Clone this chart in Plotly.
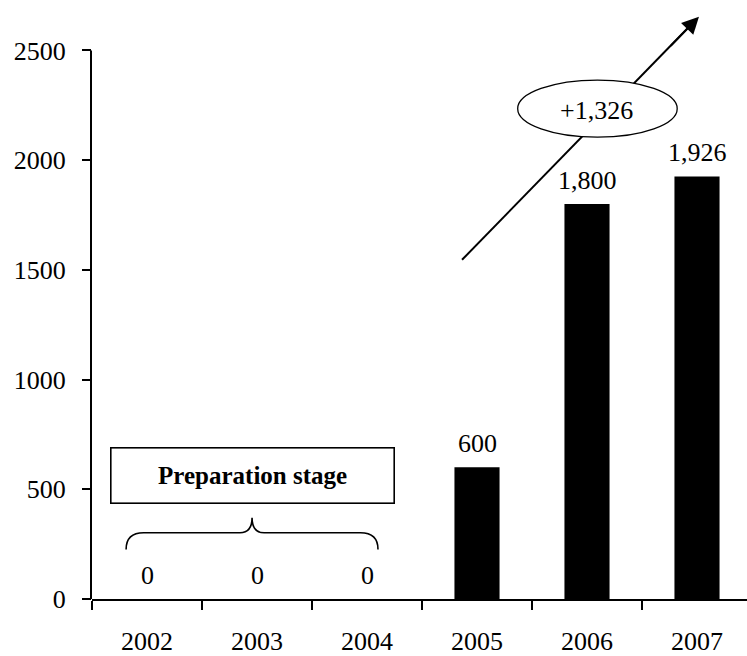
import plotly.graph_objects as go

# Annual values per year
years = ["2002", "2003", "2004", "2005", "2006", "2007"]
values = [0, 0, 0, 600, 1800, 1926]
y_ticks = [0, 500, 1000, 1500, 2000, 2500]
growth_label = "+1,326"
stage_label = "Preparation stage"

FONT = "Liberation Serif, Times New Roman, serif"
FS = 26

x_pos = list(range(len(years)))
boundaries = [i - 0.5 for i in range(len(years) + 1)]
y_axis_top = y_ticks[-1]
y_view_top = 2721  # headroom for the growth arrow above the axis

fig = go.Figure()
fig.add_trace(go.Bar(
    x=x_pos, y=values, width=0.41,
    marker=dict(color="black", line=dict(width=0)),
    hoverinfo="skip", showlegend=False,
))

# Value labels above each bar
for xi, v in zip(x_pos, values):
    fig.add_annotation(
        x=xi, y=v, text=f"{v:,}", showarrow=False,
        yanchor="middle", yshift=24,
        font=dict(family=FONT, size=FS, color="black"),
    )

# Vertical axis line that stops at the top tick
fig.add_shape(type="line", xref="paper", yref="y",
              x0=-1 / 655, x1=-1 / 655, y0=0, y1=y_axis_top,
              line=dict(color="black", width=2))

# Brace spanning the preparation years
bx0, bx1, bxc = -0.19, 2.1, 0.955
y_end, y_mid, y_tip = 226, 302, 370
de, dm = 0.16, 0.11
brace = (
    f"M {bx0},{y_end} Q {bx0},{y_mid} {bx0 + de},{y_mid} "
    f"L {bxc - dm},{y_mid} Q {bxc},{y_mid} {bxc},{y_tip} "
    f"Q {bxc},{y_mid} {bxc + dm},{y_mid} "
    f"L {bx1 - de},{y_mid} Q {bx1},{y_mid} {bx1},{y_end}"
)
fig.add_shape(type="path", path=brace, xref="x", yref="y",
              line=dict(color="black", width=1.6))

# Boxed stage label
fig.add_annotation(
    x=0.955, y=565, text=f"<b>{stage_label}</b>", showarrow=False,
    xanchor="center", yanchor="middle", width=280, height=52,
    bordercolor="black", borderwidth=1.6, bgcolor="white",
    font=dict(family=FONT, size=FS - 1, color="black"),
)

# Growth arrow: shaft, ellipse on top, then the head
arrow_x0, arrow_y0 = 2.864, 1546
arrow_x1, arrow_y1 = 5.018, 2654
fig.add_shape(type="line", xref="x", yref="y",
              x0=arrow_x0, y0=arrow_y0, x1=arrow_x1 - 0.05, y1=arrow_y1 - 25,
              line=dict(color="black", width=2))
fig.add_shape(type="circle", xref="x", yref="y",
              x0=3.37, x1=4.82, y0=2105, y1=2365,
              fillcolor="white", line=dict(color="black", width=1.3),
              layer="above")
fig.add_annotation(
    x=arrow_x1, y=arrow_y1, ax=arrow_x1 - 0.27, ay=arrow_y1 - 140,
    axref="x", ayref="y", xref="x", yref="y", text="",
    showarrow=True, arrowhead=2, arrowsize=1.7, arrowwidth=2,
    arrowcolor="black", standoff=0,
)
fig.add_annotation(
    x=4.09, y=2225, text=growth_label, showarrow=False,
    font=dict(family=FONT, size=FS, color="black"),
)

fig.update_layout(
    width=747, height=656,
    margin=dict(l=92, r=0, t=2, b=52),
    paper_bgcolor="white", plot_bgcolor="white",
    font=dict(family=FONT, size=FS, color="black"),
    showlegend=False,
)
fig.update_xaxes(
    range=[-0.5, -0.5 + 655 / 110],
    tickmode="array", tickvals=x_pos, ticktext=years,
    ticks="", ticklabelstandoff=18,
    minor=dict(tickmode="array", tickvals=boundaries, ticks="outside",
               ticklen=9, tickwidth=2, tickcolor="black"),
    showline=True, linecolor="black", linewidth=2,
    showgrid=False, zeroline=False, fixedrange=True,
    tickfont=dict(family=FONT, size=FS, color="black"),
)
fig.update_yaxes(
    range=[0, y_view_top],
    tickmode="array", tickvals=y_ticks,
    ticks="outside", ticklen=9, tickwidth=2, tickcolor="black",
    ticklabelstandoff=11,
    showline=False,
    showgrid=False, zeroline=False, fixedrange=True,
    tickfont=dict(family=FONT, size=FS, color="black"),
)

fig.write_html("out.html")
